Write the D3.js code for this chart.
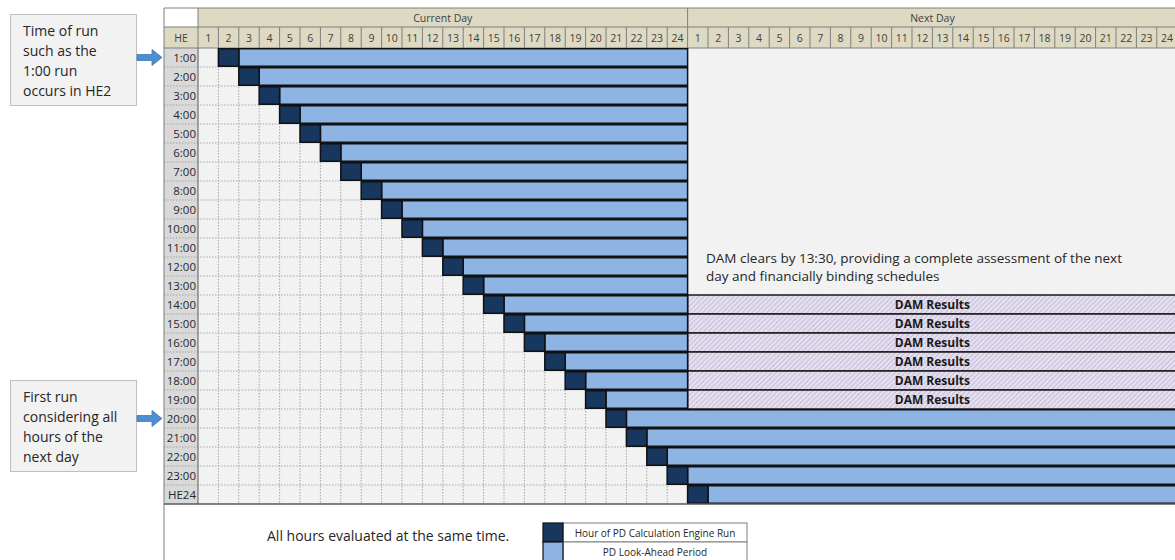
<!DOCTYPE html>
<html>
<head>
<meta charset="utf-8">
<script src="https://cdn.jsdelivr.net/npm/d3@7"></script>
<style>
  body { margin: 0; background: #fff; }
  svg { display: block; font-family: "Open Sans", "Noto Sans", sans-serif; }
  .hdr { fill: #404040; font-size: 10.5px; }
  .lbl { fill: #262626; font-size: 11.5px; }
  .note { fill: #262626; font-size: 13.5px; }
</style>
</head>
<body>
<svg id="chart" width="1175" height="560"></svg>
<script>
const days = ['Current Day', 'Next Day'];
const hourLabels = ['1','2','3','4','5','6','7','8','9','10','11','12','13','14','15','16','17','18','19','20','21','22','23','24'];
const rowLabels = ['1:00','2:00','3:00','4:00','5:00','6:00','7:00','8:00','9:00','10:00','11:00','12:00',
  '13:00','14:00','15:00','16:00','17:00','18:00','19:00','20:00','21:00','22:00','23:00','HE24'];
// column (1-based over both days) in which each run happens
const runCol = [2,3,4,5,6,7,8,9,10,11,12,13,14,15,16,17,18,19,20,21,22,23,24,25];
// last column covered by the look-ahead period
const lookEnd = [24,24,24,24,24,24,24,24,24,24,24,24,24,24,24,24,24,24,24,48,48,48,48,48];
const damRows = ['14:00','15:00','16:00','17:00','18:00','19:00'];
const callouts = [
  { row: '1:00', lines: ['Time of run', 'such as the', '1:00 run', 'occurs in HE2'] },
  { row: '20:00', lines: ['First run', 'considering all', 'hours of the', 'next day'] }
];
const legend = [
  { label: 'Hour of PD Calculation Engine Run', kind: 'run' },
  { label: 'PD Look-Ahead Period', kind: 'look' }
];

const dark = '#17375e', light = '#8db4e2', tan = '#ddd9c3', gridGray = '#a6a6a6';

const svg = d3.select('#chart');
const left = 164, heCol = 198, top0 = 8, top1 = 27, rowTop = 48;
const cw = 20.4, rh = 19;

const x = d3.scaleLinear().domain([0, 48]).range([heCol, heCol + 48 * cw]);
const y = d3.scaleBand().domain(rowLabels).range([rowTop, rowTop + 24 * rh]);
const bottom = y.range()[1];

// hatch pattern for DAM results
const pat = svg.append('defs').append('pattern')
    .attr('id', 'hatch')
    .attr('patternUnits', 'userSpaceOnUse')
    .attr('width', 3.5).attr('height', 3.5)
    .attr('patternTransform', 'rotate(45)');
pat.append('rect').attr('width', 3.5).attr('height', 3.5).attr('fill', '#e4dfee');
pat.append('line').attr('x1', 0).attr('y1', 0).attr('x2', 0).attr('y2', 3.5)
    .attr('stroke', '#bdb2d4').attr('stroke-width', 1.4);

// backgrounds
svg.append('rect').attr('x', left).attr('y', rowTop).attr('width', heCol - left).attr('height', bottom - rowTop).attr('fill', '#d9d9d9');
svg.append('rect').attr('x', heCol).attr('y', rowTop).attr('width', x(24) - heCol).attr('height', bottom - rowTop).attr('fill', '#f2f2f2');
svg.append('rect').attr('x', x(24)).attr('y', rowTop).attr('width', x(48) - x(24)).attr('height', bottom - rowTop).attr('fill', '#f2f2f2');

// header
svg.append('rect').attr('x', heCol).attr('y', top0).attr('width', x(48) - heCol).attr('height', rowTop - top0).attr('fill', tan);
svg.append('rect').attr('x', left).attr('y', top1).attr('width', heCol - left).attr('height', rowTop - top1).attr('fill', tan);
svg.append('rect').attr('x', left).attr('y', top0).attr('width', heCol - left).attr('height', top1 - top0).attr('fill', '#fff');

svg.append('g').selectAll('text')
  .data(days)
  .join('text')
    .attr('class', 'hdr')
    .attr('x', (d, i) => (x(i * 24) + x(i * 24 + 24)) / 2)
    .attr('y', 22)
    .attr('text-anchor', 'middle')
    .text(d => d);

const cols = d3.range(48);
svg.append('g').selectAll('text')
  .data(cols)
  .join('text')
    .attr('class', 'hdr')
    .attr('x', c => x(c + 0.5))
    .attr('y', 41.5)
    .attr('text-anchor', 'middle')
    .text(c => hourLabels[c % 24]);

svg.append('text').attr('class', 'hdr').attr('x', (left + heCol) / 2).attr('y', 41.5)
    .attr('text-anchor', 'middle').text('HE');

const hdrLines = svg.append('g').attr('stroke', '#7f7f7f').attr('stroke-width', 1);
hdrLines.selectAll('line.c')
  .data(d3.range(49))
  .join('line')
    .attr('x1', c => x(c)).attr('x2', c => x(c))
    .attr('y1', c => (c % 24 === 0 ? top0 : top1)).attr('y2', rowTop);
hdrLines.append('line').attr('x1', left).attr('x2', x(48)).attr('y1', top0).attr('y2', top0);
hdrLines.append('line').attr('x1', left).attr('x2', x(48)).attr('y1', top1).attr('y2', top1);
hdrLines.append('line').attr('x1', left).attr('x2', x(48)).attr('y1', rowTop).attr('y2', rowTop);

// dotted grid in current-day area and HE column
const grid = svg.append('g').attr('stroke', gridGray).attr('stroke-width', 1).attr('stroke-dasharray', '1.5,1.5');
grid.selectAll('line.v')
  .data(d3.range(1, 24))
  .join('line')
    .attr('x1', c => x(c)).attr('x2', c => x(c))
    .attr('y1', rowTop).attr('y2', bottom);
grid.selectAll('line.h')
  .data(rowLabels.slice(1))
  .join('line')
    .attr('x1', left).attr('x2', x(24))
    .attr('y1', d => y(d)).attr('y2', d => y(d));

// row labels
svg.append('g').selectAll('text')
  .data(rowLabels)
  .join('text')
    .attr('class', 'lbl')
    .attr('x', 196)
    .attr('y', d => y(d) + rh / 2 + 4)
    .attr('text-anchor', 'end')
    .text(d => d);

// DAM results
const dam = svg.append('g').selectAll('g')
  .data(damRows)
  .join('g');
dam.append('rect')
    .attr('x', x(24)).attr('y', d => y(d))
    .attr('width', x(48) - x(24)).attr('height', rh)
    .attr('fill', 'url(#hatch)')
    .attr('stroke', '#1a1a1a').attr('stroke-width', 1.5);
dam.append('text')
    .attr('x', x(36)).attr('y', d => y(d) + rh / 2 + 4.5)
    .attr('text-anchor', 'middle')
    .attr('font-size', 12).attr('font-weight', 'bold').attr('fill', '#1a1a1a')
    .text('DAM Results');

// runs and look-ahead bars
const bars = svg.append('g').selectAll('g')
  .data(rowLabels.map((r, i) => ({ r, run: runCol[i], end: lookEnd[i] })))
  .join('g');
bars.append('rect')
    .attr('x', d => x(d.run)).attr('y', d => y(d.r) + 0.75)
    .attr('width', d => x(d.end) - x(d.run)).attr('height', rh - 1.5)
    .attr('fill', light).attr('stroke', '#111').attr('stroke-width', 1.5);
bars.append('rect')
    .attr('x', d => x(d.run - 1)).attr('y', d => y(d.r) + 0.75)
    .attr('width', cw).attr('height', rh - 1.5)
    .attr('fill', dark).attr('stroke', '#111').attr('stroke-width', 1.5);

// table frame
svg.append('line').attr('x1', left).attr('x2', left).attr('y1', top0).attr('y2', 560).attr('stroke', '#7f7f7f');
svg.append('line').attr('x1', heCol).attr('x2', heCol).attr('y1', rowTop).attr('y2', bottom).attr('stroke', '#595959');
svg.append('line').attr('x1', left).attr('x2', x(48)).attr('y1', bottom).attr('y2', bottom).attr('stroke', '#595959').attr('stroke-width', 1.5);

// DAM note
svg.append('text').attr('class', 'note')
    .selectAll('tspan')
    .data(['DAM clears by 13:30, providing a complete assessment of the next', 'day and financially binding schedules'])
    .join('tspan')
      .attr('x', 706).attr('y', (d, i) => 263 + i * 18)
      .text(d => d);

// callouts: boxes sit a little differently around each arrow
const boxTop = [-43, -38];
const co = svg.append('g').selectAll('g')
  .data(callouts)
  .join('g')
    .attr('transform', d => `translate(0,${y(d.row) + rh / 2})`);
co.append('rect')
    .attr('x', 10.5).attr('y', (d, i) => boxTop[i]).attr('width', 126).attr('height', 91)
    .attr('fill', '#f2f2f2').attr('stroke', '#bfbfbf');
co.append('path')
    .attr('d', 'M137,-3 L152,-3 L152,-8 L162,0 L152,8 L152,3 L137,3 Z')
    .attr('fill', '#4f8fd0').attr('stroke', '#3a78b8').attr('stroke-width', 0.8);
co.append('text')
    .attr('font-size', 14).attr('fill', '#262626')
  .selectAll('tspan')
  .data((d, i) => d.lines.map(l => ({ l, top: boxTop[i] })))
  .join('tspan')
    .attr('x', 23).attr('y', (d, i) => d.top + 21 + i * 20)
    .text(d => d.l);

// bottom note + legend
svg.append('text').attr('x', 267).attr('y', 541).attr('font-size', 14).attr('fill', '#262626')
    .text('All hours evaluated at the same time.');

const lg = svg.append('g').selectAll('g')
  .data(legend)
  .join('g')
    .attr('transform', (d, i) => `translate(543,${523 + i * 19})`);
lg.append('rect').attr('x', 20).attr('width', 184).attr('height', 19)
    .attr('fill', '#fff').attr('stroke', '#7f7f7f');
lg.append('rect').attr('width', 20).attr('height', 19)
    .attr('fill', d => d.kind === 'run' ? dark : light)
    .attr('stroke', '#111').attr('stroke-width', 1.2);
lg.append('text').attr('x', 112).attr('y', 13.5).attr('text-anchor', 'middle')
    .attr('font-size', 10).attr('fill', '#262626')
    .text(d => d.label);
</script>
</body>
</html>
